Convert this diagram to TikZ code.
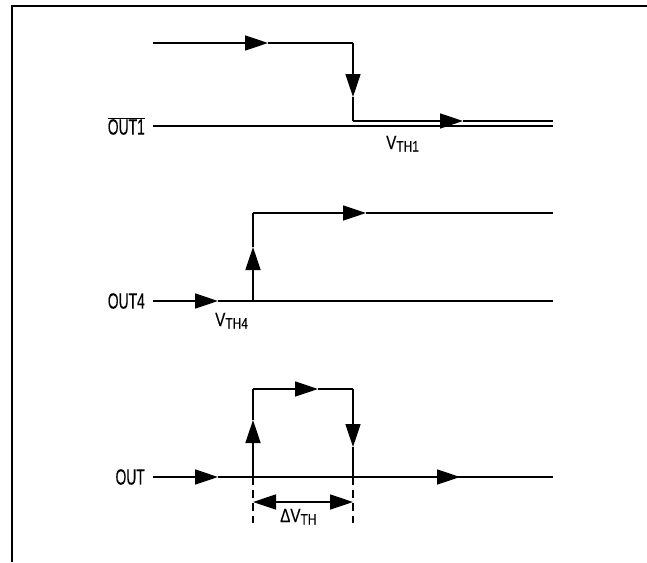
\documentclass[tikz,border=0pt]{standalone}
\usepackage{fontspec}
\setmainfont{Liberation Sans}
\newfontfamily\cndfont{Liberation Sans}[FakeStretch=0.63,FakeBold=0.2]
\newfontfamily\vthfont{Liberation Sans}[FakeStretch=0.8,FakeBold=0.2]
\usetikzlibrary{arrows.meta}
\tikzset{
  wire/.style={line width=1.7pt, line cap=butt, line join=miter},
  arr/.style={wire, -{Triangle[length=23pt,width=15pt]}},
  dim/.style={wire, {Triangle[length=23pt,width=15pt]}-{Triangle[length=23pt,width=15pt]}},
  guide/.style={line width=1.4pt, dash pattern=on 8pt off 5pt},
  frame/.style={line width=2.6pt},
  lbl/.style={font=\cndfont\fontsize{22}{22}\selectfont, inner sep=0pt},
  vlbl/.style={font=\vthfont\fontsize{19}{19}\selectfont, inner sep=0pt},
}
\newcommand{\subtx}[1]{\raisebox{-2.5pt}{\fontsize{15}{15}\selectfont #1}}
\begin{document}
\begin{tikzpicture}[x=1pt,y=-1pt]
\useasboundingbox (0,0) rectangle (647,562);
% frame (top and left edges)
\coordinate (fA) at (12,562);
\coordinate (fB) at (12,6);
\coordinate (fC) at (647,6);
\draw[frame] (fA) -- (fB) -- (fC);

% ---------- top panel: OUT1 ----------
\coordinate (t0) at (153,43);
\coordinate (t1) at (268,43);
\coordinate (t2) at (353,43);
\coordinate (t3) at (353,97);
\coordinate (t4) at (353,121);
\coordinate (t5) at (463,121);
\coordinate (t6) at (553,121);
\coordinate (b0) at (153,126);
\coordinate (b1) at (553,126);
\draw[arr] (t0) -- (t1);
\draw[wire] (t1) -- (t2);
\draw[arr] (t2) -- (t3);
\draw[wire] (t3) -- (t4);
\draw[arr] (t4) -- (t5);
\draw[wire] (t5) -- (t6);
\draw[wire] (b0) -- (b1);
\node[lbl, anchor=east] (l1) at (145,126) {$\overline{\mbox{\cndfont\fontsize{22}{22}\selectfont OUT1}}$};
\node[vlbl, anchor=base west] (v1) at (386,149) {V\subtx{TH1}};

% ---------- middle panel: OUT4 ----------
\coordinate (m0) at (153,301);
\coordinate (m1) at (218,301);
\coordinate (m2) at (253,301);
\coordinate (m3) at (553,301);
\coordinate (m4) at (253,247);
\coordinate (m5) at (253,213);
\coordinate (m6) at (366,213);
\coordinate (m7) at (553,213);
\draw[arr] (m0) -- (m1);
\draw[wire] (m1) -- (m3);
\draw[arr] (m2) -- (m4);
\draw[wire] (m4) -- (m5);
\draw[arr] (m5) -- (m6);
\draw[wire] (m6) -- (m7);
\node[lbl, anchor=east] (l4) at (145,301) {OUT4};
\node[vlbl, anchor=base west] (v4) at (215,326) {V\subtx{TH4}};

% ---------- bottom panel: OUT ----------
\coordinate (o0) at (153,477);
\coordinate (o1) at (218,477);
\coordinate (o2) at (253,477);
\coordinate (o3) at (353,477);
\coordinate (o4) at (460,477);
\coordinate (o5) at (553,477);
\coordinate (u1) at (253,420);
\coordinate (u2) at (253,389);
\coordinate (u3) at (318,389);
\coordinate (u4) at (353,389);
\coordinate (u5) at (353,447);
\draw[arr] (o0) -- (o1);
\draw[wire] (o1) -- (o4);
\draw[arr] (o3) -- (o4);
\draw[wire] (o4) -- (o5);
\draw[arr] (o2) -- (u1);
\draw[wire] (u1) -- (u2);
\draw[arr] (u2) -- (u3);
\draw[wire] (u3) -- (u4);
\draw[arr] (u4) -- (u5);
\draw[wire] (u5) -- (o3);
\coordinate (d1) at (253,523);
\coordinate (d2) at (353,523);
\draw[guide] (o2) -- (d1);
\draw[guide] (o3) -- (d2);
\coordinate (w1) at (253,502);
\coordinate (w2) at (353,502);
\draw[dim] (w1) -- (w2);
\node[lbl, anchor=east] (lo) at (145,477) {OUT};
\node[vlbl, anchor=base west] (dv) at (280,522) {ΔV\subtx{TH}};
\end{tikzpicture}
\end{document}
